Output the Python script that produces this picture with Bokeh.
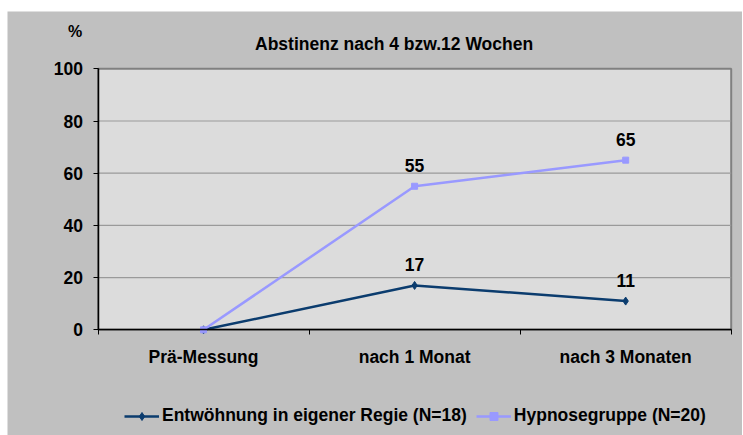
from bokeh.plotting import figure
from bokeh.models import (Range1d, FixedTicker, Legend, LegendItem, Label,
                          LabelSet, ColumnDataSource)
from bokeh.core.properties import value
from bokeh.embed import file_html
from bokeh.resources import INLINE

# ---- data ----
categories = ["Prä-Messung", "nach 1 Monat", "nach 3 Monaten"]
x_pos = [0, 1, 2]
series_selbst = [0, 17, 11]     # Entwöhnung in eigener Regie (N=18)
series_hypnose = [0, 55, 65]    # Hypnosegruppe (N=20)
name_selbst = "Entwöhnung in eigener Regie (N=18)"
name_hypnose = "Hypnosegruppe (N=20)"
title_text = "Abstinenz nach 4  bzw.12 Wochen"
unit_text = "%"
y_ticks = [0, 20, 40, 60, 80, 100]

FONT = "Liberation Sans"
FS = "17.5px"
NAVY = "#0B3C6E"
LIGHT = "#9999FF"
PANEL = "#C0C0C0"
AREA = "#DCDCDC"

# ---- layout geometry (pixels) ----
W, H = 735, 424
PAD_L, PAD_R, PAD_T, PAD_B = 90.5, 11.3, 57.3, 105.7   # plot area inside figure
x_lo, x_hi = x_pos[0] - 0.5, x_pos[-1] + 0.5
y_lo, y_hi = y_ticks[0], y_ticks[-1]
ppx = (W - PAD_L - PAD_R) / (x_hi - x_lo)
ppy = (H - PAD_T - PAD_B) / (y_hi - y_lo)

p = figure(width=W, height=H, output_backend="svg", toolbar_location=None,
           x_range=Range1d(x_lo - PAD_L / ppx, x_hi + PAD_R / ppx),
           y_range=Range1d(y_lo - PAD_B / ppy, y_hi + PAD_T / ppy),
           min_border=0, min_border_left=0, min_border_right=0,
           min_border_top=0, min_border_bottom=0)
p.margin = (11, 0, 0, 7)
p.title.visible = False
p.background_fill_color = PANEL
p.border_fill_color = PANEL
p.outline_line_color = None
p.grid.visible = False

# plot area and its gridlines
p.quad(left=[x_lo], right=[x_hi], bottom=[y_lo], top=[y_hi],
       fill_color=AREA, line_color="#808080", line_width=2)
grid_y = y_ticks[1:-1]
p.segment(x0=[x_lo] * len(grid_y), x1=[x_hi] * len(grid_y), y0=grid_y, y1=grid_y,
          line_color="#9A9A9A", line_width=1.2)

# axes fixed at the plot-area edges
p.yaxis.fixed_location = x_lo
p.yaxis.bounds = (y_lo, y_hi)
p.yaxis.ticker = FixedTicker(ticks=y_ticks)
p.yaxis.major_tick_out = 5
p.yaxis.major_tick_in = 0
p.yaxis.minor_tick_line_color = None
p.yaxis.axis_line_color = "black"
p.yaxis.axis_line_width = 1.5
p.yaxis.major_label_standoff = 10
p.yaxis.major_label_text_font = FONT
p.yaxis.major_label_text_font_style = "bold"
p.yaxis.major_label_text_font_size = FS
p.yaxis.major_label_text_color = "black"

p.xaxis.fixed_location = y_lo
p.xaxis.bounds = (x_lo, x_hi)
p.xaxis.ticker = FixedTicker(ticks=x_pos,
                             minor_ticks=[x - 0.5 for x in x_pos] + [x_hi])
p.xaxis.major_tick_out = 0
p.xaxis.major_tick_in = 0
p.xaxis.minor_tick_out = 5
p.xaxis.minor_tick_in = 0
p.xaxis.minor_tick_line_color = "black"
p.xaxis.axis_line_color = "black"
p.xaxis.axis_line_width = 1.5
p.xaxis.major_label_overrides = {x: c for x, c in zip(x_pos, categories)}
p.xaxis.major_label_standoff = 12
p.xaxis.major_label_text_font = FONT
p.xaxis.major_label_text_font_style = "bold"
p.xaxis.major_label_text_font_size = FS
p.xaxis.major_label_text_color = "black"

# series
l1 = p.line(x_pos, series_selbst, line_color=NAVY, line_width=2.5)
m1 = p.scatter(x_pos, series_selbst, marker="diamond", size=8, color=NAVY)
l2 = p.line(x_pos, series_hypnose, line_color=LIGHT, line_width=2.5)
m2 = p.scatter(x_pos, series_hypnose, marker="square", size=6, color=LIGHT)

# data labels (non-zero points)
lab_src = ColumnDataSource(dict(
    x=x_pos[1:] + x_pos[1:],
    y=series_selbst[1:] + series_hypnose[1:],
    t=[str(v) for v in series_selbst[1:] + series_hypnose[1:]],
))
p.add_layout(LabelSet(x="x", y="y", text="t", source=lab_src, y_offset=21,
                      text_align="center", text_baseline="middle",
                      text_font=value(FONT), text_font_style="bold",
                      text_font_size=FS, text_color="black"))

# title and unit (screen units from the bottom-left of the figure)
p.add_layout(Label(x=389, y=H - 32.5, x_units="screen", y_units="screen",
                   text=title_text, text_align="center", text_baseline="middle",
                   text_font=FONT, text_font_style="bold",
                   text_font_size=FS, text_color="black"))
p.add_layout(Label(x=67.5, y=H - 20, x_units="screen", y_units="screen",
                   text=unit_text, text_align="center", text_baseline="middle",
                   text_font=FONT, text_font_style="bold",
                   text_font_size="16px", text_color="black"))

legend = Legend(items=[LegendItem(label=name_selbst, renderers=[l1, m1]),
                       LegendItem(label=name_hypnose, renderers=[l2, m2])],
                orientation="horizontal", location=(117, 9),
                glyph_width=35, glyph_height=20, label_height=20,
                label_standoff=3, spacing=9, padding=0, margin=0,
                background_fill_alpha=0, border_line_color=None,
                label_text_font=FONT, label_text_font_style="bold",
                label_text_font_size=FS, label_text_color="black")
p.add_layout(legend, "center")

open("out.html", "w").write(file_html(p, INLINE))
